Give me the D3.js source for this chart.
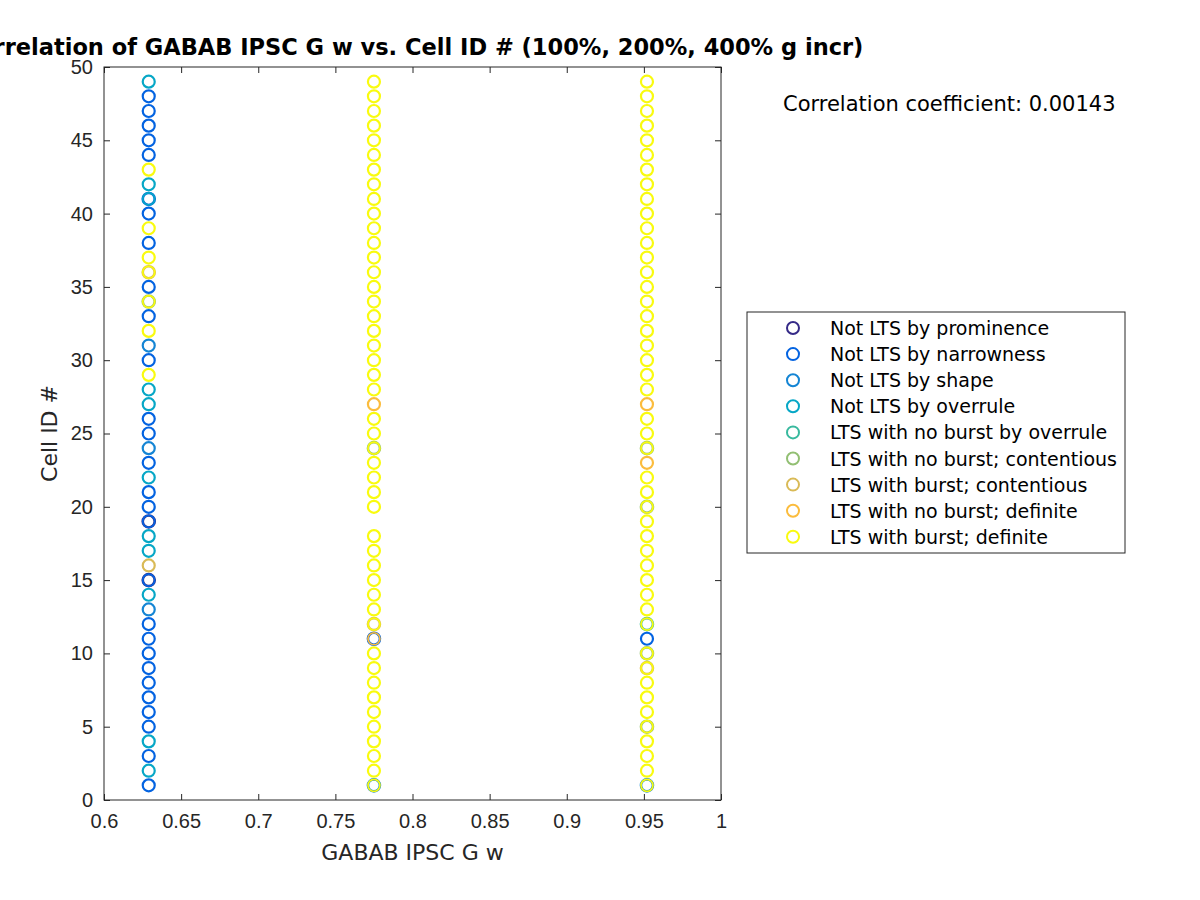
<!DOCTYPE html>
<html>
<head>
<meta charset="utf-8">
<script src="https://cdn.jsdelivr.net/npm/d3@7"></script>
<style>
  body { margin: 0; background: #fff; }
  svg { font-family: "DejaVu Sans", sans-serif; }
</style>
</head>
<body>
<div id="chart"></div>
<script>
// GABAB IPSC G w for the three g increments (100%, 200%, 400%)
const gValues = [0.629, 0.775, 0.952];

const cellIds = [1, 2, 3, 4, 5, 6, 7, 8, 9, 10, 11, 12, 13, 14, 15, 16, 17, 18, 19, 20,
  21, 22, 23, 24, 25, 26, 27, 28, 29, 30, 31, 32, 33, 34, 35, 36, 37, 38, 39, 40,
  41, 42, 43, 44, 45, 46, 47, 48, 49];

// class index (0-8) of the top marker for each cell id, null = no point
const classLow = [1, 3, 1, 3, 1, 1, 1, 1, 1, 1, 1, 1, 2, 3, 1, 6, 3, 3, 1, 1,
  1, 3, 1, 2, 1, 1, 3, 3, 8, 1, 2, 8, 1, 8, 1, 8, 8, 1, 8, 1,
  3, 3, 8, 1, 1, 1, 1, 1, 3];
const classMid = [8, 8, 8, 8, 8, 8, 8, 8, 8, 8, 7, 8, 8, 8, 8, 8, 8, 8, null, 8,
  8, 8, 8, 8, 8, 8, 7, 8, 8, 8, 8, 8, 8, 8, 8, 8, 8, 8, 8, 8,
  8, 8, 8, 8, 8, 8, 8, 8, 8];
const classHigh = [8, 8, 8, 8, 8, 8, 8, 8, 8, 8, 1, 8, 8, 8, 8, 8, 8, 8, 8, 8,
  8, 8, 7, 8, 8, 8, 7, 8, 8, 8, 8, 8, 8, 8, 8, 8, 8, 8, 8, 8,
  8, 8, 8, 8, 8, 8, 8, 8, 8];

// markers lying underneath (other g increments), shown only as a tinted rim
const underLow = [[15, 0], [19, 0], [34, 5], [36, 6], [41, 1]];
const underMid = [[1, 2], [11, 1], [12, 6], [24, 5]];
const underHigh = [[1, 2], [5, 5], [9, 6], [10, 5], [12, 4], [20, 5], [24, 5]];

const classNames = [
  'Not LTS by prominence',
  'Not LTS by narrowness',
  'Not LTS by shape',
  'Not LTS by overrule',
  'LTS with no burst by overrule',
  'LTS with no burst; contentious',
  'LTS with burst; contentious',
  'LTS with no burst; definite',
  'LTS with burst; definite',
];
const classColors = ['#352a87', '#0363e1', '#1485d4', '#06a7c6', '#38b99e',
  '#92bf73', '#d9ba56', '#fbbc3d', '#f9fb0e'];

const xTicks = [0.6, 0.65, 0.7, 0.75, 0.8, 0.85, 0.9, 0.95, 1];
const yTicks = [0, 5, 10, 15, 20, 25, 30, 35, 40, 45, 50];
const corrText = 'Correlation coefficient: 0.00143';

const W = 1200, H = 900;
const margin = { top: 67, left: 104, right: 479, bottom: 100 };
const width = W - margin.left - margin.right;
const height = H - margin.top - margin.bottom;
const axisColor = '#262626';

const svg = d3.select('#chart').append('svg')
  .attr('width', W).attr('height', H);
const g = svg.append('g')
  .attr('transform', 'translate(' + margin.left + ',' + margin.top + ')');

const x = d3.scaleLinear().domain([0.6, 1]).range([0, width]);
const y = d3.scaleLinear().domain([0, 50]).range([height, 0]);

// build point lists
const columns = [classLow, classMid, classHigh];
const unders = [underLow, underMid, underHigh];
const points = [];
const rims = [];
columns.forEach((cls, i) => {
  unders[i].forEach(([id, c]) => rims.push({ gw: gValues[i], id: id, c: c }));
  cellIds.forEach((id, j) => {
    if (cls[j] !== null) points.push({ gw: gValues[i], id: id, c: cls[j] });
  });
});

g.selectAll('circle.rim')
  .data(rims)
  .enter()
  .append('circle')
  .attr('class', 'rim')
  .attr('cx', (d) => x(d.gw))
  .attr('cy', (d) => y(d.id))
  .attr('r', 6)
  .attr('fill', 'none')
  .attr('stroke', (d) => classColors[d.c])
  .attr('stroke-width', 2.6);

g.selectAll('circle.pt')
  .data(points)
  .enter()
  .append('circle')
  .attr('class', 'pt')
  .attr('cx', (d) => x(d.gw))
  .attr('cy', (d) => y(d.id))
  .attr('r', 6)
  .attr('fill', 'none')
  .attr('stroke', (d) => classColors[d.c])
  .attr('stroke-width', (d) => (rims.some((r) => r.gw === d.gw && r.id === d.id) ? 1.7 : 2.2));

// axes with inward ticks on all four sides
const styleAxis = (sel) => {
  sel.select('.domain').remove();
  sel.selectAll('line').attr('stroke', axisColor);
  sel.selectAll('text').attr('fill', axisColor).style('font-size', '20px');
};
g.append('g')
  .attr('transform', 'translate(0,' + height + ')')
  .call(d3.axisBottom(x).tickValues(xTicks).tickSize(-6).tickPadding(14)
    .tickFormat((d) => String(+d.toFixed(2))))
  .call(styleAxis);
g.append('g')
  .call(d3.axisTop(x).tickValues(xTicks).tickSize(-6).tickFormat(''))
  .call(styleAxis);
g.append('g')
  .call(d3.axisLeft(y).tickValues(yTicks).tickSize(-6).tickPadding(11))
  .call(styleAxis);
g.append('g')
  .attr('transform', 'translate(' + width + ',0)')
  .call(d3.axisRight(y).tickValues(yTicks).tickSize(-6).tickFormat(''))
  .call(styleAxis);
g.append('rect')
  .attr('width', width).attr('height', height)
  .attr('fill', 'none').attr('stroke', axisColor).attr('stroke-width', 1);

// labels
g.append('text')
  .attr('x', width / 2).attr('y', height + 60)
  .attr('text-anchor', 'middle')
  .attr('fill', axisColor)
  .style('font-size', '22px')
  .text('GABAB IPSC G w');
g.append('text')
  .attr('transform', 'translate(-47,' + height / 2 + ') rotate(-90)')
  .attr('text-anchor', 'middle')
  .attr('fill', axisColor)
  .style('font-size', '22px')
  .text('Cell ID #');
g.append('text')
  .attr('x', width / 2).attr('y', -12)
  .attr('text-anchor', 'middle')
  .attr('fill', '#000')
  .style('font-size', '22.5px')
  .style('font-weight', 'bold')
  .text('Correlation of GABAB IPSC G w vs. Cell ID # (100%, 200%, 400% g incr)');

svg.append('text')
  .attr('x', 783).attr('y', 111)
  .attr('fill', '#000')
  .style('font-size', '21px')
  .text(corrText);

// legend
const legend = svg.append('g').attr('transform', 'translate(747,312)');
legend.append('rect')
  .attr('width', 378).attr('height', 241)
  .attr('fill', '#fff').attr('stroke', axisColor).attr('stroke-width', 1);
const items = legend.selectAll('g.item')
  .data(classNames)
  .enter()
  .append('g')
  .attr('class', 'item')
  .attr('transform', (d, i) => 'translate(0,' + (16 + i * 26.1) + ')');
items.append('circle')
  .attr('cx', 46).attr('cy', 0).attr('r', 6)
  .attr('fill', 'none')
  .attr('stroke', (d, i) => classColors[i])
  .attr('stroke-width', 2);
items.append('text')
  .attr('x', 83).attr('y', 7)
  .attr('fill', '#000')
  .style('font-size', '19px')
  .text((d) => d);
</script>
</body>
</html>
